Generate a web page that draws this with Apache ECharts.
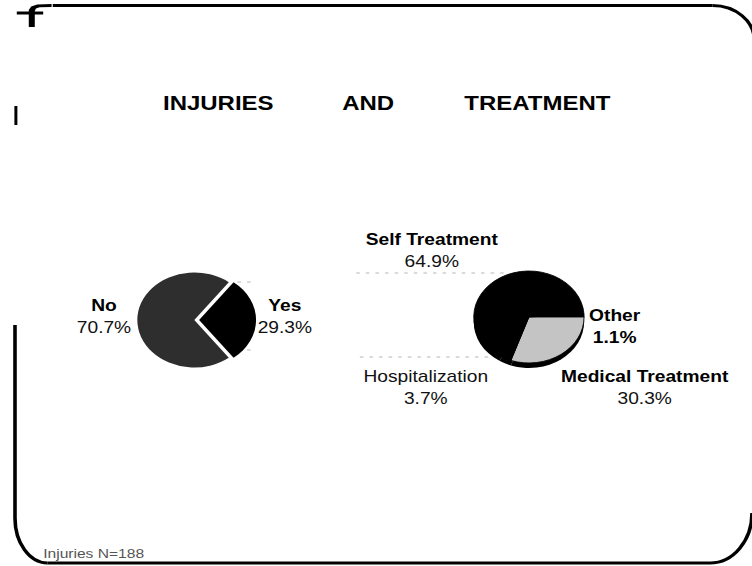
<!DOCTYPE html>
<html>
<head>
<meta charset="utf-8">
<script src="https://cdn.jsdelivr.net/npm/echarts@6/dist/echarts.min.js"></script>
<style>
  html, body { margin: 0; padding: 0; background: #fff; overflow: hidden; }
  #wrap { width: 752px; height: 566px; overflow: hidden; position: relative; }
  /* the slide is laid out at 627 px and widened to the 752 px frame */
  #chart { width: 627px; height: 566px; transform: scaleX(1.19936); transform-origin: 0 0; }
</style>
</head>
<body>
<div id="wrap"><div id="chart"></div></div>
<script>
// ---- data ----
const titleWords = ['INJURIES', 'AND', 'TREATMENT'];
const injuryCategories = ['Yes', 'No'];
const injuryShares = [29.3, 70.7];
const treatmentCategories = ['Other', 'Medical Treatment', 'Hospitalization', 'Self Treatment'];
const treatmentShares = [1.1, 30.3, 3.7, 64.9];
const footnote = 'Injuries N=188';

// ---- styling ----
const injuryColors = ['#000000', '#2e2e2e'];
const treatmentColors = ['#000000', '#c4c4c4', '#000000', '#000000'];
const lightNames = ['Hospitalization'];
const boldValues = ['Other'];
const FONT = '"Liberation Sans", Arial, sans-serif';

// label anchors (centre of the two-line label)
const injuryLabelPos = [[237.5, 317], [86.7, 317]];
const treatmentLabelPos = [[512.5, 327], [537.5, 388], [355, 388], [360, 251]];
const titleX = [182, 307, 448];

const fmtLabel = p => {
  const n = lightNames.includes(p.name) ? 'nl' : 'n';
  const v = boldValues.includes(p.name) ? 'vb' : 'v';
  return '{' + n + '|' + p.name + '}\n{' + v + '|' + p.value.toFixed(1) + '%}';
};
const labelRich = {
  n:  { fontFamily: FONT, fontSize: 16, fontWeight: 'bold', color: '#000', lineHeight: 22 },
  nl: { fontFamily: FONT, fontSize: 16, fontWeight: 'normal', color: '#111', lineHeight: 22 },
  v:  { fontFamily: FONT, fontSize: 16, fontWeight: 'normal', color: '#111', lineHeight: 22 },
  vb: { fontFamily: FONT, fontSize: 16, fontWeight: 'bold', color: '#000', lineHeight: 22 }
};
const baseLabel = {
  show: true, position: 'outside', formatter: fmtLabel, rich: labelRich,
  align: 'center', overflow: 'none', width: 200
};
const pinTo = list => p => {
  const a = list[p.dataIndex];
  return { x: a[0], y: a[1], align: 'center', verticalAlign: 'middle' };
};

// injury pie: the "Yes" slice is pulled out to the right along its mid-angle
const PIE_C = [162, 320];
const PULL = 4;
const yesStart = injuryShares[0] / 100 * 180;   // slice centred on 3 o'clock
const pulledCenter = [PIE_C[0] + PULL, PIE_C[1]];

const injuryBody = injuryCategories.map((c, i) => ({
  name: c, value: injuryShares[i],
  itemStyle: { color: i === 0 ? 'rgba(0,0,0,0)' : injuryColors[i] }
}));
const injuryPulled = injuryCategories.map((c, i) => ({
  name: c, value: injuryShares[i],
  itemStyle: { color: i === 0 ? injuryColors[i] : 'rgba(0,0,0,0)' }
}));
const treatmentData = treatmentCategories.map((c, i) => ({
  name: c, value: treatmentShares[i], itemStyle: { color: treatmentColors[i] }
}));

// ---- slide frame: straight runs and rounded corners ----
const K = 0.5523;
const frameLines = [
  [44, 5.5, 594, 5.5],
  [12.5, 325, 12.5, 518],
  [39.5, 563, 592, 563]
];
const frameCorners = [
  { x1: 594, y1: 5.5, x2: 629, y2: 40.5, cpx1: 594 + K * 35, cpy1: 5.5, cpx2: 629, cpy2: 40.5 - K * 35 },
  { x1: 12.5, y1: 518, x2: 39.5, y2: 563, cpx1: 12.5, cpy1: 518 + K * 45, cpx2: 39.5 - K * 27, cpy2: 563 },
  { x1: 592, y1: 563, x2: 627, y2: 513, cpx1: 592 + K * 35, cpy1: 563, cpx2: 627, cpy2: 513 + K * 50 }
];
const frameStyle = { fill: null, stroke: '#000', lineWidth: 3 };

const chart = echarts.init(document.getElementById('chart'), null, { renderer: 'svg' });
chart.setOption({
  animation: false,
  backgroundColor: '#ffffff',
  series: [
    {
      type: 'pie', name: 'Injuries',
      center: PIE_C, radius: 47.5,
      startAngle: yesStart, clockwise: true,
      data: injuryBody,
      label: baseLabel,
      labelLine: { show: false },
      labelLayout: pinTo(injuryLabelPos),
      itemStyle: { borderWidth: 0 },
      emphasis: { disabled: true },
      z: 2
    },
    {
      type: 'pie', name: 'Injuries (pulled slice)',
      center: pulledCenter, radius: 47.5,
      startAngle: yesStart, clockwise: true,
      data: injuryPulled,
      label: { show: false }, labelLine: { show: false },
      itemStyle: { borderWidth: 0 },
      silent: true, emphasis: { disabled: true },
      z: 2
    },
    {
      // side wall of the treatment pie
      type: 'pie', name: 'depth',
      center: [441, 322], radius: 46,
      startAngle: treatmentShares[0] / 100 * 360,
      data: treatmentData.map(d => ({ name: d.name, value: d.value, itemStyle: { color: '#000' } })),
      label: { show: false }, labelLine: { show: false },
      silent: true, emphasis: { disabled: true },
      itemStyle: { borderWidth: 0 },
      z: 1
    },
    {
      type: 'pie', name: 'Treatment',
      center: [441, 317], radius: 46,
      startAngle: treatmentShares[0] / 100 * 360,
      clockwise: true,
      data: treatmentData,
      label: baseLabel,
      labelLine: { show: false },
      labelLayout: pinTo(treatmentLabelPos),
      itemStyle: { borderColor: '#000', borderWidth: 0.8 },
      emphasis: { disabled: true },
      z: 2
    }
  ],
  graphic: [
    ...titleWords.map((w, i) => ({
      type: 'text', x: titleX[i], y: 103,
      style: { text: w, font: 'bold 20px ' + FONT, fill: '#000', textAlign: 'center', textVerticalAlign: 'middle' }
    })),
    ...frameLines.map(l => ({
      type: 'line', shape: { x1: l[0], y1: l[1], x2: l[2], y2: l[3] }, style: frameStyle
    })),
    ...frameCorners.map(c => ({ type: 'bezierCurve', shape: c, style: frameStyle })),
    // corner mark and stray tick on the left edge
    { type: 'polygon', shape: { points: [[24, 27], [24, 10], [26, 6.5], [31, 4.5], [43, 4], [43, 7], [33, 7.2], [30, 8.5], [29, 11], [29, 27]] },
      style: { fill: '#000' } },
    { type: 'rect', shape: { x: 14, y: 11.5, width: 22, height: 3 }, style: { fill: '#000' } },
    { type: 'rect', shape: { x: 12, y: 106, width: 2.5, height: 19 }, style: { fill: '#000' } },
    // faint leader lines
    ...[[297, 273, 423, 273], [300, 357, 417, 357], [198, 282, 210, 282], [206, 350, 210, 350]].map(l => ({
      type: 'line', shape: { x1: l[0], y1: l[1], x2: l[2], y2: l[3] },
      style: { stroke: '#b8b8b8', lineWidth: 1, lineDash: [3, 5] }
    })),
    {
      type: 'text', x: 36, y: 553,
      style: { text: footnote, font: '13px ' + FONT, fill: '#555', textAlign: 'left', textVerticalAlign: 'middle' }
    }
  ]
});
</script>
</body>
</html>
